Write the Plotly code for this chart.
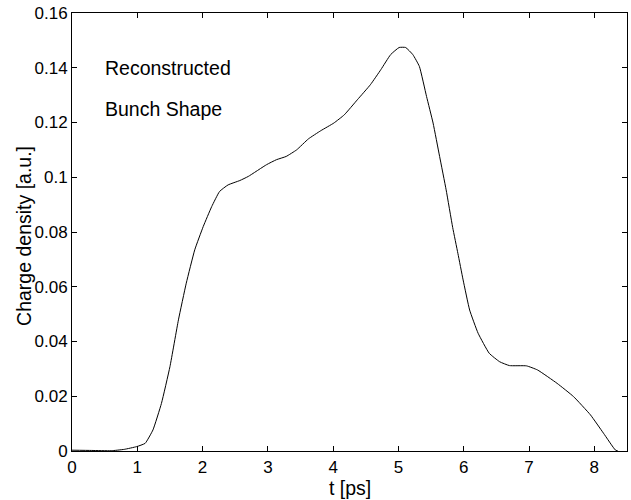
import plotly.graph_objects as go

t_ps = [0.0, 0.3, 0.6, 0.8, 0.99, 1.12, 1.24, 1.37, 1.50, 1.63, 1.75, 1.88, 2.01, 2.14, 2.26, 2.39,
        2.57, 2.70, 2.98, 3.13, 3.28, 3.44, 3.62, 3.81, 4.01, 4.17, 4.37, 4.57, 4.73, 4.88, 5.01,
        5.11, 5.22, 5.32, 5.43, 5.53, 5.63, 5.73, 5.83, 5.91, 5.99, 6.09, 6.22, 6.39, 6.55, 6.70, 6.96,
        7.13, 7.43, 7.68, 7.94, 8.14, 8.32, 8.36]
density = [0.0003, 0.0002, 0.0001, 0.0006, 0.0016, 0.0028, 0.0077, 0.0174, 0.0308, 0.0479, 0.0613,
           0.0735, 0.0820, 0.0893, 0.0948, 0.0972, 0.0988, 0.1003, 0.1046, 0.1064, 0.1076,
           0.1100, 0.1140, 0.1170, 0.1198, 0.1228, 0.1283, 0.1338, 0.1393, 0.1448, 0.1474, 0.1474,
           0.1448, 0.1405, 0.1295, 0.1198, 0.1076, 0.0954, 0.0817, 0.0722, 0.0625, 0.0515, 0.0430,
           0.0357, 0.0326, 0.0312, 0.0311, 0.0296, 0.0247, 0.0199, 0.0132, 0.0065, 0.0004, 0.0]

x_ticks = [0, 1, 2, 3, 4, 5, 6, 7, 8]
y_ticks = [0, 0.02, 0.04, 0.06, 0.08, 0.1, 0.12, 0.14, 0.16]
y_tick_labels = ["0", "0.02", "0.04", "0.06", "0.08", "0.1", "0.12", "0.14", "0.16"]

tick_font = dict(family="Liberation Sans, Arial, sans-serif", size=17, color="black")
text_font = dict(family="Liberation Sans, Arial, sans-serif", size=19.5, color="black")

fig = go.Figure()
fig.add_trace(go.Scatter(x=t_ps, y=density, mode="lines",
                         line=dict(color="black", width=1, shape="spline", smoothing=0.4),
                         showlegend=False, hoverinfo="skip"))

axis_common = dict(showgrid=False, zeroline=False, showline=True, linecolor="black", linewidth=1,
                   mirror="allticks", ticks="inside", ticklen=5, tickcolor="black", tickwidth=1,
                   tickfont=tick_font, automargin=False, ticklabeloverflow="allow")

fig.update_xaxes(range=[0, 8.5], tickvals=x_ticks, ticklabelstandoff=1, **axis_common)
fig.update_yaxes(range=[0, 0.160001], tickvals=y_ticks, ticktext=y_tick_labels, **axis_common)

fig.add_annotation(text="t [ps]", xref="paper", yref="paper", x=0.5, y=-0.0856,
                   xanchor="center", yanchor="middle", showarrow=False, font=text_font)
fig.add_annotation(text="Charge density [a.u.]", xref="paper", yref="paper", x=-0.0865, y=0.491,
                   xanchor="center", yanchor="middle", textangle=-90, showarrow=False, font=text_font)
fig.add_annotation(text="Reconstructed", xref="paper", yref="paper", x=0.0556, y=0.874,
                   xanchor="left", yanchor="middle", showarrow=False, font=text_font)
fig.add_annotation(text="Bunch Shape", xref="paper", yref="paper", x=0.0556, y=0.781,
                   xanchor="left", yanchor="middle", showarrow=False, font=text_font)

fig.update_layout(width=631, height=500, margin=dict(l=72, r=4, t=13, b=49),
                  paper_bgcolor="white", plot_bgcolor="white", font=tick_font)

# remove the browser's default 8px body margin so the 631x500 figure fills the window
fig.write_html("out.html", config={"displayModeBar": False},
               post_script="document.body.style.margin='0';document.documentElement.style.overflow='hidden';")
